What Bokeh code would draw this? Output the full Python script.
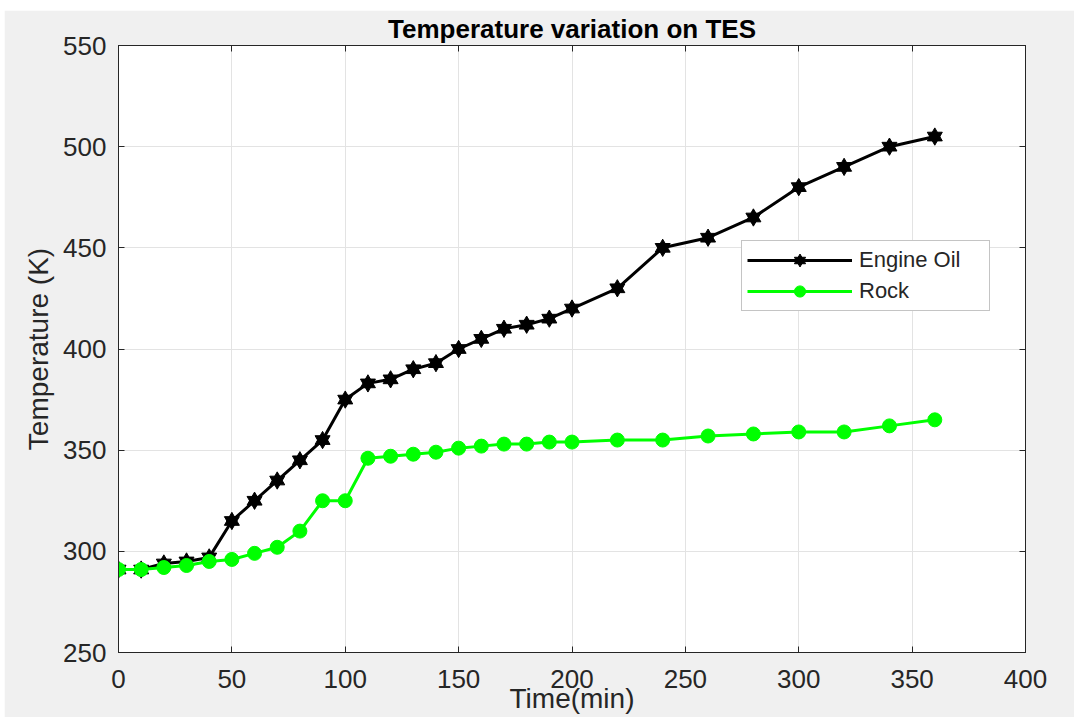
from bokeh.plotting import figure
from bokeh.models import FixedTicker, LinearAxis, Legend, LegendItem, Spacer, ColumnDataSource
from bokeh.layouts import column, row
from bokeh.embed import file_html
from bokeh.resources import INLINE

time_min = [0, 10, 20, 30, 40, 50, 60, 70, 80, 90, 100, 110, 120, 130, 140, 150, 160,
            170, 180, 190, 200, 220, 240, 260, 280, 300, 320, 340, 360]
engine_oil = [291, 291, 294, 295, 297, 315, 325, 335, 345, 355, 375, 383, 385, 390, 393,
              400, 405, 410, 412, 415, 420, 430, 450, 455, 465, 480, 490, 500, 505]
rock = [291, 291, 292, 293, 295, 296, 299, 302, 310, 325, 325, 346, 347, 348, 349,
        351, 352, 353, 353, 354, 354, 355, 355, 357, 358, 359, 359, 362, 365]
x_ticks = [0, 50, 100, 150, 200, 250, 300, 350, 400]
y_ticks = [250, 300, 350, 400, 450, 500, 550]
title_text = "Temperature variation on TES"

FONT = "Liberation Sans"
TXT = "#262626"

p = figure(width=1070, height=707, output_backend="svg", toolbar_location=None,
           x_range=(0, 400), y_range=(250, 550),
           min_border_left=114, min_border_right=49, min_border_top=35, min_border_bottom=65,
           background_fill_color="white", border_fill_color="#f0f0f0",
           outline_line_color=TXT, outline_line_width=1)

p.title.text = title_text
p.title.align = "center"
p.title.vertical_align = "top"
p.title.text_font = FONT
p.title.text_font_size = "26px"
p.title.text_font_style = "bold"
p.title.text_color = "black"
p.title.standoff = 0

src = ColumnDataSource(dict(t=time_min, oil=engine_oil, rock=rock))

l1 = p.line("t", "oil", source=src, line_color="black", line_width=3)
m1a = p.scatter("t", "oil", source=src, marker="triangle", size=15, fill_color="black", line_color="black")
m1b = p.scatter("t", "oil", source=src, marker="inverted_triangle", size=15, fill_color="black", line_color="black")
l2 = p.line("t", "rock", source=src, line_color="#00ff00", line_width=3)
m2 = p.scatter("t", "rock", source=src, marker="circle", size=14, fill_color="#00ff00", line_color="#00ff00")

for ax in (p.xaxis[0], p.yaxis[0]):
    ax.axis_line_color = TXT
    ax.major_tick_line_color = TXT
    ax.major_tick_in = 6
    ax.major_tick_out = 0
    ax.minor_tick_line_color = None
    ax.major_label_text_font = FONT
    ax.major_label_text_font_size = "26px"
    ax.major_label_text_color = TXT
    ax.axis_label_text_font = FONT
    ax.axis_label_text_font_size = "28px"
    ax.axis_label_text_font_style = "normal"
    ax.axis_label_text_color = TXT

p.xaxis[0].ticker = FixedTicker(ticks=x_ticks)
p.yaxis[0].ticker = FixedTicker(ticks=y_ticks)
p.xaxis[0].axis_label = "Time(min)"
p.yaxis[0].axis_label = "Temperature (K)"
p.xaxis[0].major_label_standoff = 17
p.xaxis[0].axis_label_standoff = -8
p.yaxis[0].major_label_standoff = 12
p.yaxis[0].axis_label_standoff = 6

for side, ticks in (("above", x_ticks), ("right", y_ticks)):
    ax = LinearAxis(ticker=FixedTicker(ticks=ticks), major_label_text_color=None,
                    major_label_text_font_size="1px",
                    axis_line_color=TXT, major_tick_line_color=TXT, major_tick_in=6,
                    major_tick_out=0, minor_tick_line_color=None, major_label_standoff=0)
    p.add_layout(ax, side)

p.xgrid.ticker = FixedTicker(ticks=x_ticks)
p.ygrid.ticker = FixedTicker(ticks=y_ticks)
p.grid.grid_line_color = "#e3e3e3"
p.grid.grid_line_width = 1

legend = Legend(items=[LegendItem(label="Engine Oil", renderers=[l1, m1a, m1b]),
                       LegendItem(label="Rock", renderers=[l2, m2])],
                location=(623, 341), label_text_font=FONT, label_text_font_size="22px",
                label_text_color=TXT, glyph_width=105, glyph_height=28, label_standoff=7,
                label_width=125, spacing=3, padding=5, margin=0,
                border_line_color="#8a8a8a", border_line_width=1.5,
                background_fill_color="white", background_fill_alpha=1)
p.add_layout(legend)

layout = column(Spacer(height=10), row(Spacer(width=4), p))
open("out.html", "w").write(file_html(layout, INLINE))
